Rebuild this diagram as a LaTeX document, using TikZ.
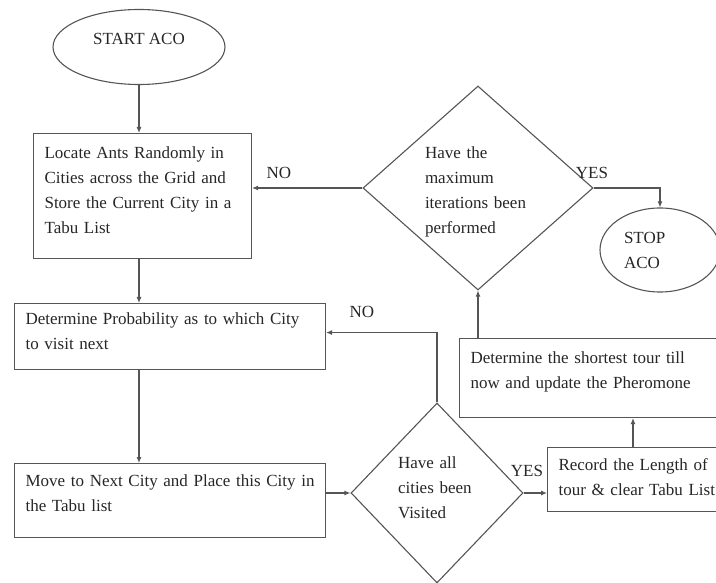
\documentclass[tikz,border=0pt]{standalone}
\usepackage{fontspec}
\setmainfont{Liberation Serif}
\usetikzlibrary{shapes.geometric,arrows.meta}
\definecolor{linec}{HTML}{555555}
\definecolor{txtc}{HTML}{262626}
\begin{document}
\begin{tikzpicture}[x=1pt,y=-1pt,
  font=\fontsize{17}{25}\selectfont,
  conn/.style={draw=linec, line width=1.1pt, -{Latex[length=6pt,width=5pt]}},
  box/.style={draw=linec, line width=1.1pt, rectangle, align=left, inner xsep=11pt, inner ysep=0pt,
              text=txtc, anchor=north west},
  dec/.style={draw=linec, line width=1.1pt, diamond, inner sep=0pt, align=left, text=txtc},
  term/.style={draw=linec, line width=1.1pt, ellipse, inner sep=0pt, text=txtc},
  lbl/.style={text=txtc, inner sep=0pt}
]
\useasboundingbox (0,0) rectangle (716,583);

% terminals
\node[term, minimum width=172pt, minimum height=75pt, text depth=16pt] (start) at (139,47) {START ACO};
\node[term, minimum width=120pt, minimum height=84pt, align=left, text width=72pt] (stop) at (660,250) {STOP\\ACO};

% process boxes
\node[box, minimum width=218pt, minimum height=125pt, text width=196pt, text depth=86pt] (b1) at (33,133)
  {Locate Ants Randomly in\\Cities across the Grid and\\Store the Current City in a\\Tabu List};
\node[box, minimum width=311pt, minimum height=66pt, text width=289pt, text depth=35pt] (b2) at (14,303)
  {Determine Probability as to which City\\to visit next};
\node[box, minimum width=311pt, minimum height=74pt, text width=289pt, text depth=39pt] (b3) at (14,463)
  {Move to Next City and Place this City in\\the Tabu list};
\node[box, minimum width=200pt, minimum height=64pt, text width=178pt, text depth=31pt] (b4) at (547,447)
  {Record the Length of\\tour \& clear Tabu List};
\node[box, minimum width=259pt, minimum height=79pt, text width=237pt, text depth=40pt] (b5) at (459,338)
  {Determine the shortest tour till\\now and update the Pheromone};

% decisions
\node[dec, minimum width=230pt, minimum height=204pt, text width=106pt, text depth=71pt] (d1) at (478,188)
  {Have the\\maximum\\iterations been\\performed};
\node[dec, minimum width=172pt, minimum height=180pt, text width=78pt, text depth=61pt] (d2) at (437,493)
  {Have all\\cities been\\Visited};

% labels
\node[lbl] (no1) at (279,173) {NO};
\node[lbl] (yes1) at (592,173) {YES};
\node[lbl] (no2) at (362,312) {NO};
\node[lbl] (yes2) at (527,471) {YES};

% connectors
\draw[conn] (start.south) -- (start.south |- b1.north);
\draw[conn] (b1.south -| start.south) -- (start.south |- b2.north);
\draw[conn] (b2.south -| start.south) -- (start.south |- b3.north);
\draw[conn] (b3.east |- d2.west) -- (d2.west);
\draw[conn] (d2.north) |- ([yshift=4pt]b2.east);
\draw[conn] (d2.east) -- (d2.east -| b4.west);
\draw[conn] (b4.north -| 633,0) -- (633,0 |- b5.south);
\draw[conn] (d1.south |- b5.north) -- (d1.south);
\draw[conn] (d1.west) -- (d1.west -| b1.east);
\draw[conn] (d1.east) -| (stop.north);
\end{tikzpicture}
\end{document}
